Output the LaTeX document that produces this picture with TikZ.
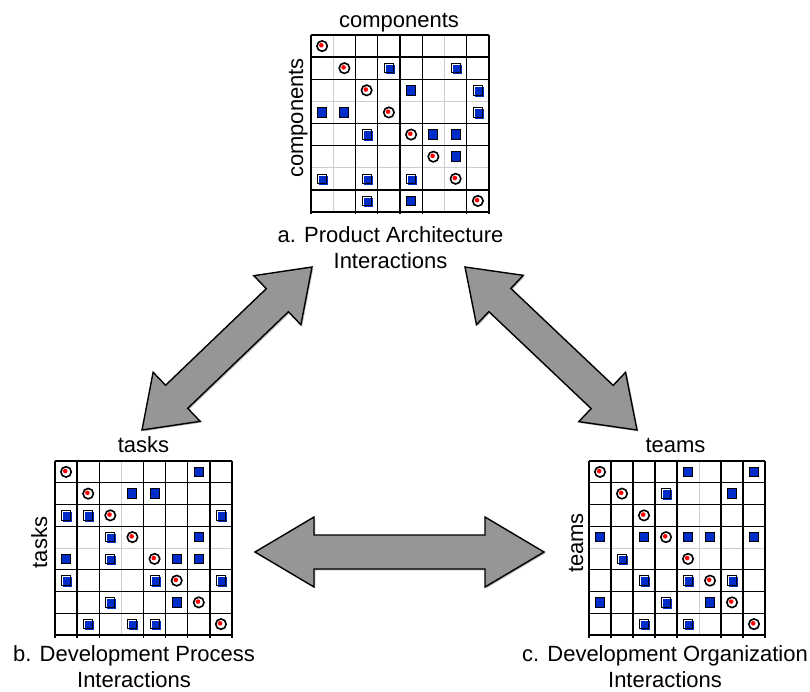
\documentclass[tikz,border=0pt]{standalone}
\usepackage{fontspec}
\setmainfont{Liberation Sans}
\usetikzlibrary{calc,shadows}

\definecolor{markblue}{RGB}{0,45,200}
\definecolor{arrowgray}{RGB}{150,150,150}
\definecolor{gridgray}{RGB}{205,205,205}

\tikzset{
  gridline/.style={line width=1.4pt, black},
  softline/.style={line width=0.9pt, gridgray},
  diagmark/.style={draw=black, fill=white, line width=1.6pt},
  reddot/.style={fill=red},
  depmark/.style={draw=black, fill=markblue, line width=1pt},
  depedge/.style={draw=black, line width=1pt},
  bigarrow/.style={draw=black, line width=1.4pt, fill=arrowgray, line join=miter,
    drop shadow={shadow xshift=1.3pt, shadow yshift=-1.3pt, opacity=0.55}},
  lab/.style={font=\fontsize{22}{25.5}\selectfont, align=center, inner sep=0pt, outer sep=0pt},
}

% 8x8 design structure matrix grid:
% #1 left, #2 top, #3 cell width, #4 cell height,
% #5 light columns, #6 light rows, #7 dark columns, #8 dark rows, #9 node name
\newcommand\dsmgrid[9]{%
  \begin{scope}[shift={(#1,#2)}]
    \node[inner sep=0pt, outer sep=0pt, minimum width={8*#3*1pt},
          minimum height={8*#4*1pt}, anchor=north west] (#9) at (0,0) {};
    \foreach \i in {#5} \draw[softline] ({\i*#3},0) -- ({\i*#3},{8*#4});
    \foreach \i in {#6} \draw[softline] (0,{\i*#4}) -- ({8*#3},{\i*#4});
    \foreach \i in {#8} \draw[gridline] (0,{\i*#4}) -- ({8*#3},{\i*#4});
    \foreach \i in {#7} \draw[gridline] ({\i*#3},0) -- ({\i*#3},{8*#4+2.5});
  \end{scope}}

% diagonal circles and off-diagonal squares:
% #1 left, #2 top, #3 cell width, #4 cell height, #5 plain squares r/c, #6 shaded squares r/c
\newcommand\dsmmarks[6]{%
  \begin{scope}[shift={(#1,#2)}]
    \foreach \k in {1,...,8} {
      \draw[diagmark] ({(\k-0.5)*#3},{(\k-0.5)*#4}) circle[radius=5.2pt];
      \fill[reddot] ({(\k-0.5)*#3-0.8},{(\k-0.5)*#4-0.8}) circle[radius=2.3pt];
    }
    \foreach \r/\c in {#5}
      \draw[depmark] ({(\c-0.5)*#3-4.5},{(\r-0.5)*#4-4.75}) rectangle ++(9,9.5);
    \foreach \r/\c in {#6} {
      \fill[white] ({(\c-0.5)*#3-4.5},{(\r-0.5)*#4-4.75}) rectangle ++(9,9.5);
      \fill[markblue] ({(\c-0.5)*#3-3},{(\r-0.5)*#4-3.25}) rectangle ++(9,9.5);
      \draw[depedge] ({(\c-0.5)*#3-4.5},{(\r-0.5)*#4-4.75}) rectangle ++(9,9.5);
    }
  \end{scope}}

% broad double-headed arrow between two named points:
% #1 first tip, #2 second tip, #3 head length, #4 head half width, #5 shaft half width
\newcommand\fatarrow[5]{%
  \coordinate (h1) at ($(#1)!#3!(#2)$);
  \coordinate (h2) at ($(#2)!#3!(#1)$);
  \path[bigarrow] (#1)
    -- ($(h1)!#4!90:(#2)$) -- ($(h1)!#5!90:(#2)$)
    -- ($(h2)!#5!-90:(#1)$) -- ($(h2)!#4!-90:(#1)$)
    -- (#2)
    -- ($(h2)!#4!90:(#1)$) -- ($(h2)!#5!90:(#1)$)
    -- ($(h1)!#5!-90:(#2)$) -- ($(h1)!#4!-90:(#2)$)
    -- cycle;}

\begin{document}
\begin{tikzpicture}[x=1pt,y=-1pt]
\useasboundingbox (0,0) rectangle (810,692);
\fill[white] (0,0) rectangle (810,692);

% a. product architecture
\dsmgrid{311}{35}{22.25}{22.125}{1,6}{3,6}{0,2,3,4,5,7,8}{0,1,2,4,5,7,8}{pa}
\dsmmarks{311}{35}{22.25}{22.125}
  {3/5,4/1,4/2,5/6,5/7,6/7,8/5}
  {2/4,2/7,3/8,4/8,5/3,7/1,7/3,7/5,8/3}
\node[lab, anchor=base] (pa-top) at (399,28) {components};
\node[lab, anchor=base, rotate=90] (pa-side) at (303,118) {components};
\node[lab, anchor=north] (pa-cap) at (390.5,227) {a. Product Architecture\\Interactions};

% b. development process
\dsmgrid{55}{461}{22.125}{21.75}{3}{4}{0,1,2,4,5,6,7,8}{0,1,2,3,5,6,7,8}{pb}
\dsmmarks{55}{461}{22.125}{21.75}
  {1/7,2/4,2/5,4/7,5/1,5/6,5/7,7/6}
  {3/1,3/2,3/8,4/3,5/3,6/1,6/5,6/8,7/3,8/2,8/4,8/5}
\node[lab, anchor=base] (pb-top) at (143.5,452) {tasks};
\node[lab, anchor=base, rotate=90] (pb-side) at (47,542.5) {tasks};
\node[lab, anchor=north] (pb-cap) at (134,646) {b. Development Process\\Interactions};

% c. development organization
\dsmgrid{589}{461}{22}{21.75}{5}{4}{0,1,2,3,4,6,7,8}{0,1,2,3,5,6,7,8}{pc}
\dsmmarks{589}{461}{22}{21.75}
  {1/5,1/8,2/7,4/1,4/3,4/5,4/6,4/8,7/1,7/6}
  {2/4,5/2,6/3,6/5,6/7,7/4,8/3,8/5}
\node[lab, anchor=base] (pc-top) at (675.5,452) {teams};
\node[lab, anchor=base, rotate=90] (pc-side) at (583,543) {teams};
\node[lab, anchor=north] (pc-cap) at (665,646) {c. Development Organization\\Interactions};

% interaction arrows
\coordinate (ab-low) at (142,430);
\coordinate (ab-high) at (312,267);
\coordinate (ac-high) at (465,267);
\coordinate (ac-low) at (637,430);
\coordinate (bc-left) at (255,552);
\coordinate (bc-right) at (544,552);
\fatarrow{ab-low}{ab-high}{48pt}{34pt}{16pt}
\fatarrow{ac-high}{ac-low}{48pt}{34pt}{16pt}
\fatarrow{bc-left}{bc-right}{59pt}{35pt}{17pt}
\end{tikzpicture}
\end{document}
